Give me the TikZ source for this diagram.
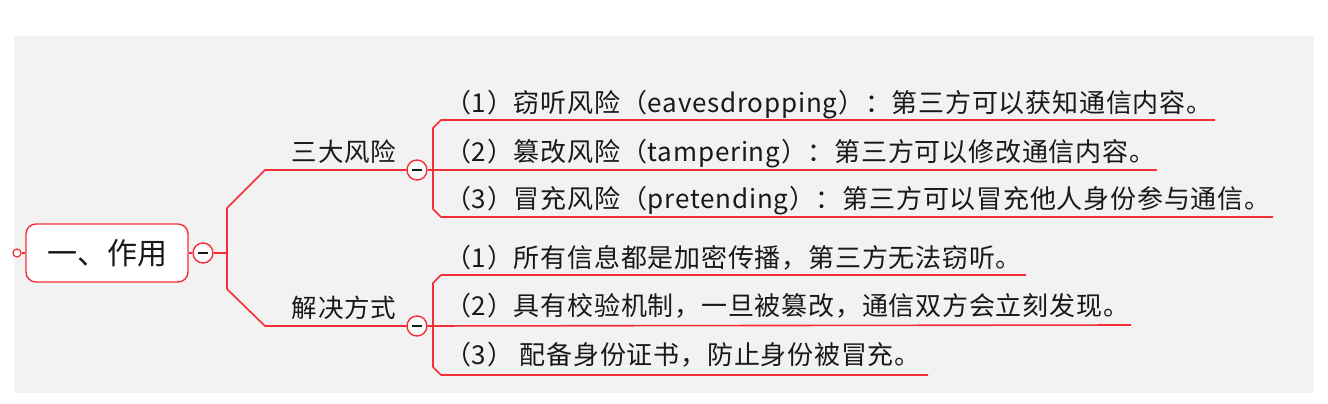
\documentclass[tikz,border=0pt]{standalone}
\usepackage{fontspec}
\newfontfamily\cjk{Noto Sans CJK SC}
\newfontfamily\cjkwide[LetterSpace=3]{Noto Sans CJK SC}
\definecolor{mred}{RGB}{245,45,55}
\definecolor{bgc}{RGB}{242,242,242}
\definecolor{txt}{RGB}{25,25,25}
\begin{document}
\begin{tikzpicture}[x=1pt,y=-1pt,line join=round,
  link/.style={draw=mred,line width=1.6pt},
  tog/.style={circle,draw=mred,fill=white,line width=1.4pt,minimum size=20pt,inner sep=0pt,
    path picture={\draw[txt,line width=1.6pt] ([xshift=-5pt]path picture bounding box.center) -- ([xshift=5pt]path picture bounding box.center);}},
  dot/.style={circle,draw=mred,fill=white,line width=1.2pt,minimum size=8pt,inner sep=0pt},
  rootbox/.style={rectangle,rounded corners=10pt,draw=mred,fill=white,line width=1.4pt,
    minimum width=162pt,minimum height=58pt,inner sep=0pt,text=txt,font=\cjk\fontsize{30}{30}\selectfont},
  lbl/.style={inner sep=0pt,anchor=base,text=txt,font=\cjkwide\fontsize{25.5}{25.5}\selectfont},
  item/.style={inner sep=0pt,anchor=base west,text=txt,font=\cjkwide\fontsize{26}{26}\selectfont}]
\useasboundingbox (0,0) rectangle (1328,404);
\fill[bgc] (14,36) rectangle (1314,393);

% root
\node[rootbox] (root) at (107,253) {一、作用};
\node[dot] (d0) at (17,253) {};
\node[tog] (c0) at (203,253) {};
\draw[link] (d0) -- (root);
\draw[link] (root) -- (c0);

% level-1
\node[tog] (c1) at (417,170) {};
\node[tog] (c2) at (417,326) {};
\coordinate (j) at (227,253);
\coordinate (k1) at (265,170);
\coordinate (k2) at (227,208);
\coordinate (k3) at (227,289);
\coordinate (k4) at (265,326);
\draw[link] (c0) -- (j);
\draw[link] (c1) -- (k1) -- (k2) -- (k3) -- (k4) -- (c2);
\node[lbl] (l1) at (344,161) {三大风险};
\node[lbl] (l2) at (344,317) {解决方式};

% upper children
\node[item] (t1) at (445,112) {（1）窃听风险（eavesdropping）：第三方可以获知通信内容。};
\node[item] (t2) at (445,161) {（2）篡改风险（tampering）：第三方可以修改通信内容。};
\node[item] (t3) at (445,208) {（3）冒充风险（pretending）：第三方可以冒充他人身份参与通信。};
\coordinate (u1) at (1215,120);
\coordinate (u2) at (1157,170);
\coordinate (u3) at (1273,217);
\draw[link] (u1) -- (441,120) -- (433,128) -- (433,209) -- (441,217) -- (u3);
\draw[link] (c1) -- (u2);

% lower children
\node[item] (t4) at (445,267) {（1）所有信息都是加密传播，第三方无法窃听。};
\node[item] (t5) at (445,315) {（2）具有校验机制，一旦被篡改，通信双方会立刻发现。};
\node[item] (t6) at (445,364) {（3） 配备身份证书，防止身份被冒充。};
\coordinate (v1) at (1026,275);
\coordinate (v2) at (1131,325);
\coordinate (v3) at (928,375);
\draw[link] (v1) -- (441,275) -- (433,283) -- (433,367) -- (441,375) -- (v3);
\draw[link] (c2) -- (v2);
\end{tikzpicture}
\end{document}
